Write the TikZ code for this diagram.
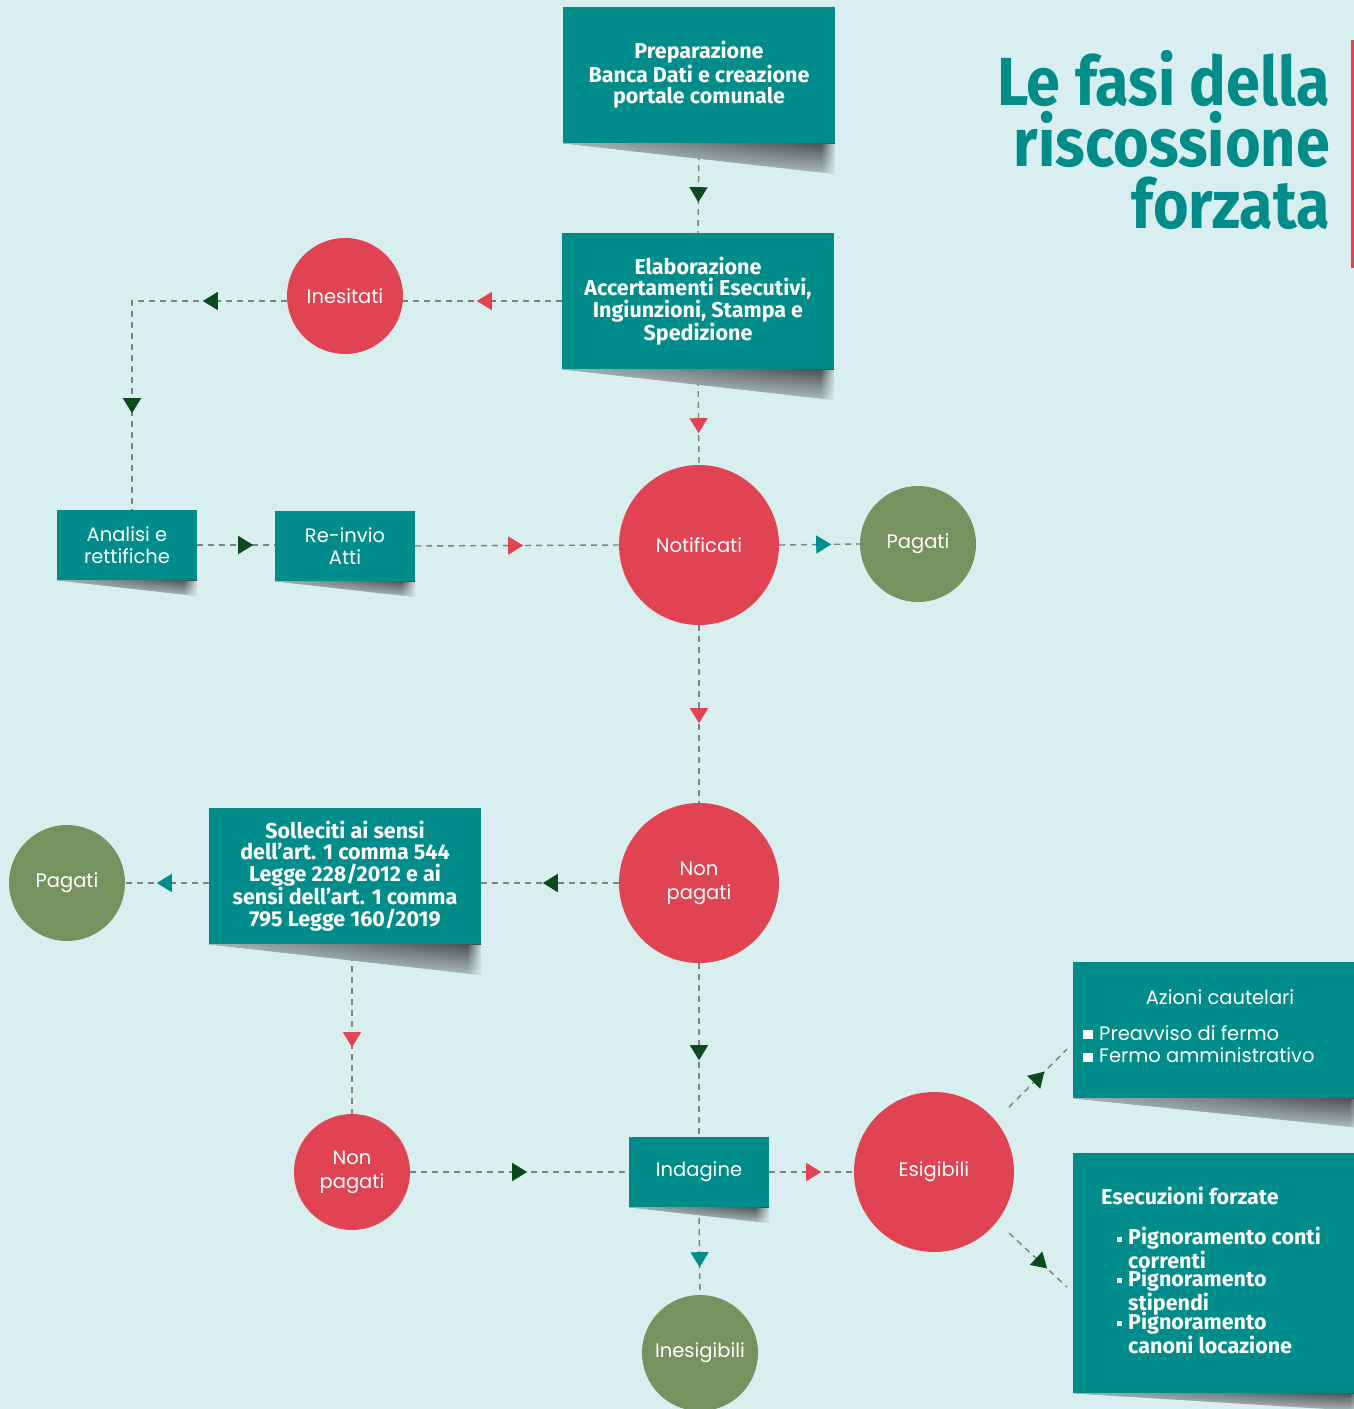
\documentclass[tikz,border=0pt]{standalone}
\usepackage{fontspec}
\setmainfont{Poppins}
\newfontfamily\cond{Fira Sans}
\newfontfamily\condt{Fira Sans}[FakeStretch=0.9]
\usetikzlibrary{decorations.markings,arrows.meta,calc,fadings}
\definecolor{bg}{HTML}{D9EEEE}
\definecolor{teal1}{HTML}{018C8C}
\definecolor{red1}{HTML}{E04452}
\definecolor{grn1}{HTML}{76935F}
\definecolor{dkg}{HTML}{0B4A1D}
\definecolor{dash1}{HTML}{808080}
\definecolor{shd}{HTML}{474C4F}
\tikzfading[name=tobg, left color=transparent!100, right color=transparent!0]
\tikzfading[name=leftlight, left color=transparent!35, right color=transparent!100]
\tikzset{
  box/.style={fill=teal1, text=white, inner sep=0pt, align=center},
  boldtxt/.style={font=\cond\bfseries\fontsize{21.5}{21.5}\selectfont},
  regtxt/.style={font=\fontsize{19.5}{22}\selectfont},
  bigc/.style={circle, fill=red1, minimum size=160pt, inner sep=0pt, text=white, align=center, font=\fontsize{19.5}{24}\selectfont},
  smallc/.style={circle, minimum size=116pt, inner sep=0pt, text=white, align=center, font=\fontsize{19.5}{24}\selectfont},
  conn/.style={draw=dash1, line width=1.4pt, dash pattern=on 6pt off 5pt},
  arr/.style 2 args={postaction={decorate, decoration={markings, mark=at position #1 with {\arrow[#2]{Triangle[length=15pt,width=18pt]}}}}},
  itemtxt/.style={anchor=base west, text=white, align=left, inner sep=0pt},
  titletxt/.style={anchor=base east, align=right, text=teal1, inner sep=0pt, font=\condt\bfseries\fontsize{68}{61.5}\selectfont},
}
\newcommand\boxshadow[2]{%
  \shade[top color=shd, middle color=shd!85!bg, bottom color=shd!30!bg] (#1.south west) -- (#1.south east) -- ($(#1.south east)+(0,#2)$) -- cycle;
  \fill[bg, path fading=leftlight] (#1.south west) -- (#1.south east) -- ($(#1.south east)+(0,#2)$) -- cycle;
  \fill[bg, path fading=tobg] ($(#1.south east)+(-14,0.6)$) rectangle ($(#1.south east)+(1,#2+1)$);}
\begin{document}
\begin{tikzpicture}[x=1pt,y=-1pt]
\path[use as bounding box, fill=bg] (0,0) rectangle (1354,1409);
% title
\node[titletxt] (title) at (1330,228) {Le fasi della\\riscossione\\forzata};
\draw[red1, line width=3pt] (1352,40) -- (1352,268);
% nodes
\node[box, boldtxt, minimum width=272pt, minimum height=136pt] (b1) at (699,75) {Preparazione\\Banca Dati e creazione\\portale comunale};
\node[box, boldtxt, minimum width=272pt, minimum height=136pt] (b2) at (698,301) {Elaborazione\\Accertamenti Esecutivi,\\Ingiunzioni, Stampa e\\Spedizione};
\node[smallc, fill=red1] (ines) at (345,296) {Inesitati};
\node[box, regtxt, minimum width=140pt, minimum height=70pt] (anal) at (127,545) {Analisi e\\rettifiche};
\node[box, regtxt, minimum width=140pt, minimum height=70pt] (rein) at (345,546) {Re-invio\\Atti};
\node[bigc] (notif) at (699,545) {Notificati};
\node[smallc, fill=grn1] (pag1) at (918,544) {Pagati};
\node[bigc] (np1) at (699,883) {Non\\pagati};
\node[box, boldtxt, minimum width=272pt, minimum height=136pt] (sol) at (345,876) {Solleciti ai sensi\\dell’art. 1 comma 544\\Legge 228/2012 e ai\\sensi dell’art. 1 comma\\795 Legge 160/2019};
\node[smallc, fill=grn1] (pag2) at (67,883) {Pagati};
\node[smallc, fill=red1] (np2) at (352,1172) {Non\\pagati};
\node[box, regtxt, minimum width=140pt, minimum height=70pt] (ind) at (699,1172) {Indagine};
\node[bigc] (esig) at (934,1172) {Esigibili};
\node[smallc, fill=grn1] (ines2) at (700,1353) {Inesigibili};
\node[box, minimum width=290pt, minimum height=136pt] (az) at (1218,1030) {};
\node[box, minimum width=290pt, minimum height=240pt] (es) at (1218,1273) {};
% box contents
\node[itemtxt, regtxt, anchor=base] (azt) at (1220,1004) {Azioni cautelari};
\fill[white] (1083,1030) rectangle (1093,1039);
\fill[white] (1083,1053) rectangle (1093,1062);
\node[itemtxt, regtxt] (az1) at (1099,1040) {Preavviso di fermo};
\node[itemtxt, regtxt] (az2) at (1099,1062) {Fermo amministrativo};
\node[itemtxt, boldtxt] (est) at (1101,1204) {Esecuzioni forzate};
\fill[white] (1117,1237) rectangle (1122,1242);
\fill[white] (1117,1278) rectangle (1122,1283);
\fill[white] (1117,1321) rectangle (1122,1326);
\node[itemtxt, boldtxt] (es1) at (1128,1268) {Pignoramento conti\\correnti};
\node[itemtxt, boldtxt] (es2) at (1128,1310) {Pignoramento\\stipendi};
\node[itemtxt, boldtxt] (es3) at (1128,1353) {Pignoramento\\canoni locazione};
% connectors
\coordinate (c1) at (132,301);
\coordinate (d1a) at (1009,1107);
\coordinate (d1b) at (1067,1049);
\coordinate (d2a) at (1009,1233);
\coordinate (d2b) at (1067,1287);
\draw[conn, arr={59pt}{dkg}] (b1.south) -- (b2.north);
\draw[conn, arr={85pt}{red1}] (b2.west) -- (b2.west -| ines.east);
\draw[conn, arr={84pt}{dkg}, arr={267pt}{dkg}] (c1 -| ines.west) -- (c1) -- (anal.north -| c1);
\draw[conn, arr={56pt}{dkg}] (anal.east) -- (anal.east -| rein.west);
\draw[conn, arr={108pt}{red1}] (rein.east) -- (notif.west);
\draw[conn, arr={64pt}{red1}] (b2.south) -- (notif.north);
\draw[conn, arr={52pt}{teal1}] (notif.east) -- (pag1.west);
\draw[conn, arr={98pt}{red1}] (notif.south) -- (np1.north);
\draw[conn, arr={76pt}{dkg}] (np1.west) -- (np1.west -| sol.east);
\draw[conn, arr={52pt}{teal1}] (sol.west |- pag2.east) -- (pag2.east);
\draw[conn, arr={103pt}{red1}] (sol.south -| np2.north) -- (np2.north);
\draw[conn, arr={117pt}{dkg}] (np2.east) -- (ind.west);
\draw[conn, arr={97pt}{dkg}] (np1.south) -- (ind.north);
\draw[conn, arr={52pt}{red1}] (ind.east) -- (esig.west);
\draw[conn, arr={60pt}{teal1}] (ind.south) -- (ines2.north);
\draw[conn, arr={50pt}{dkg}] (d1a) -- (d1b);
\draw[conn, arr={52pt}{dkg}] (d2a) -- (d2b);
% shadows
\boxshadow{b1}{31}
\boxshadow{b2}{31}
\boxshadow{anal}{16}
\boxshadow{rein}{16}
\boxshadow{sol}{31}
\boxshadow{ind}{16}
\boxshadow{az}{30}
\boxshadow{es}{18}
\end{tikzpicture}
\end{document}
